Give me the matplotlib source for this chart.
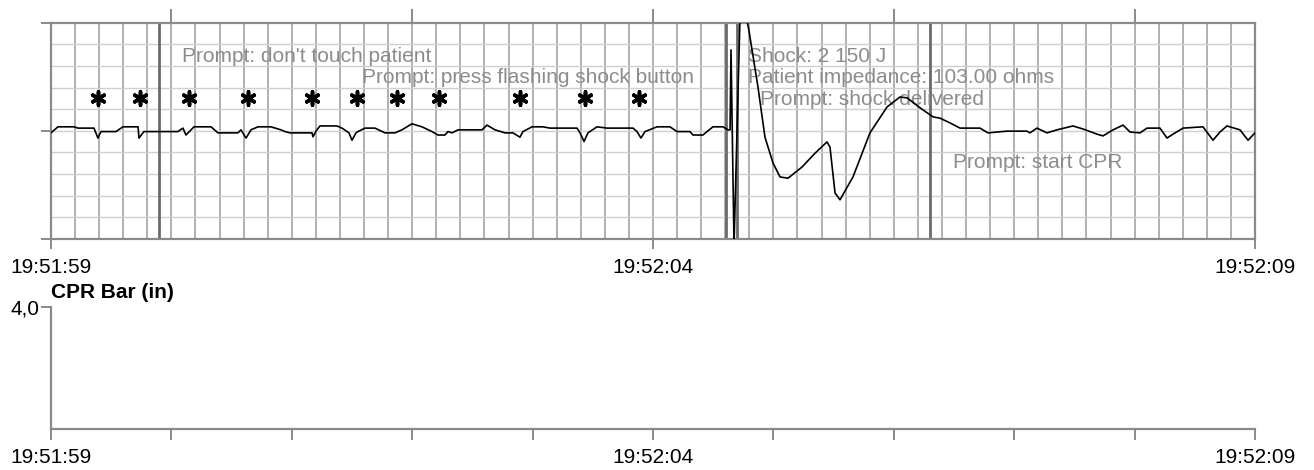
import numpy as np
import matplotlib
matplotlib.use("Agg")
import matplotlib.pyplot as plt

plt.rcParams["font.family"] = ["Liberation Sans", "DejaVu Sans"]

# ECG trace: seconds after 19:51:59, amplitude
ecg_t = [0.000, 0.058, 0.191, 0.224, 0.357, 0.390, 0.415, 0.540, 0.598, 0.723,
         0.731, 0.772, 1.055, 1.096, 1.121, 1.188, 1.329, 1.387, 1.553, 1.578,
         1.620, 1.661, 1.719, 1.827, 1.910, 1.944, 1.985, 2.168, 2.176, 2.201,
         2.234, 2.375, 2.417, 2.475, 2.500, 2.533, 2.550, 2.608, 2.691, 2.774,
         2.857, 2.915, 2.998, 3.081, 3.164, 3.214, 3.272, 3.297, 3.331, 3.381,
         3.580, 3.621, 3.688, 3.771, 3.837, 3.895, 3.920, 3.995, 4.086, 4.144,
         4.369, 4.394, 4.427, 4.460, 4.535, 4.618, 4.834, 4.867, 4.900, 4.934,
         5.033, 5.141, 5.199, 5.307, 5.332, 5.415, 5.449, 5.498, 5.581, 5.623,
         5.640, 5.648, 5.673, 5.723, 5.770, 5.795, 5.872, 5.930, 5.997, 6.055,
         6.121, 6.238, 6.346, 6.445, 6.470, 6.512, 6.553, 6.661, 6.802, 6.944,
         7.051, 7.110, 7.218, 7.326, 7.384, 7.467, 7.550, 7.716, 7.782, 7.940,
         8.106, 8.131, 8.189, 8.272, 8.355, 8.488, 8.571, 8.688, 8.738, 8.821,
         8.904, 8.962, 9.045, 9.103, 9.211, 9.269, 9.319, 9.402, 9.568, 9.651,
         9.709, 9.767, 9.875, 9.942, 10.000]
ecg_v = [-0.05, 0.09, 0.09, 0.06, 0.06, -0.17, -0.02, -0.02, 0.09, 0.09,
         -0.17, -0.02, -0.02, 0.06, -0.10, 0.09, 0.09, -0.05, -0.05, 0.02,
         -0.17, 0.02, 0.09, 0.09, 0.02, -0.02, -0.05, -0.05, -0.14, -0.01,
         0.11, 0.11, 0.06, -0.05, -0.22, -0.05, -0.02, 0.06, 0.06, -0.05,
         -0.05, 0.02, 0.16, 0.09, -0.02, -0.10, -0.10, -0.02, -0.05, 0.02,
         0.02, 0.13, 0.02, -0.05, -0.05, -0.15, -0.02, 0.09, 0.09, 0.06,
         0.06, -0.05, -0.25, -0.05, 0.09, 0.06, 0.06, -0.02, -0.17, -0.02,
         0.09, 0.09, -0.02, -0.02, -0.10, -0.10, -0.02, 0.09, 0.09, 0.02,
         0.02, 1.87, -2.65, 2.68, 2.68, 2.35, 1.01, -0.15, -0.75, -1.07,
         -1.10, -0.84, -0.52, -0.26, -0.38, -1.44, -1.60, -1.07, -0.05, 0.55,
         0.78, 0.76, 0.53, 0.32, 0.29, 0.18, 0.06, 0.06, -0.05, -0.01,
         -0.01, -0.05, 0.06, -0.05, 0.02, 0.11, 0.04, -0.08, -0.12, 0.02,
         0.13, -0.03, -0.05, 0.06, 0.06, -0.17, -0.08, 0.06, 0.09, -0.22,
         -0.03, 0.11, 0.02, -0.22, -0.05]

# detected beats (asterisks)
beat_t = [0.390, 0.739, 1.146, 1.636, 2.168, 2.542, 2.874, 3.223, 3.895, 4.435, 4.884]
beat_v = [0.76] * len(beat_t)

# device events
event_t = [0.897, 5.606, 5.698, 7.301]
notes = ["Prompt: don't touch patient", "Prompt: press flashing shock button",
         "Shock: 2 150 J", "Patient impedance: 103.00 ohms",
         "Prompt: shock delivered", "Prompt: start CPR"]
note_t = [1.088, 2.583, 5.789, 5.789, 5.889, 7.490]
note_v = [1.59, 1.10, 1.59, 1.10, 0.59, -0.86]

time_ticks = [0, 5, 10]
time_labels = ["19:51:59", "19:52:04", "19:52:09"]

fig = plt.figure(figsize=(13.14, 4.70), dpi=100)
frame = "#8a8a8a"

# ---- ECG strip ----
ax = fig.add_axes([0.0388, 0.4921, 0.9163, 0.4596])
ax.set_xlim(0, 10)
ax.set_ylim(-2.5, 2.5)
for x in np.arange(0.2, 10, 0.2):
    ax.axvline(x, color="#9a9a9a", lw=1.1, zorder=1)
for y in np.arange(-2.0, 2.5, 0.5):
    ax.axhline(y, color="#cfcfcf", lw=1.0, zorder=1)
for x in event_t:
    ax.axvline(x, color="#6a6a6a", lw=2.0, zorder=2)

ax.plot(ecg_t, ecg_v, color="black", lw=1.2, zorder=4)
ax.scatter(beat_t, beat_v, marker=(6, 2, 0), s=90, color="black", linewidths=2.6, zorder=5)

for txt, x, y in zip(notes, note_t, note_v):
    ax.text(x, y, txt, fontsize=15, color="#8c8c8c", ha="left", va="baseline", zorder=3)

for s in ax.spines.values():
    s.set_color(frame)
    s.set_linewidth(1.6)
ax.set_xticks(time_ticks)
ax.set_xticklabels(time_labels)
ax.set_yticks([-2.5, 0, 2.5])
ax.set_yticklabels([])
ax.tick_params(axis="x", length=7, width=1.4, color=frame, labelsize=15, pad=7)
ax.tick_params(axis="y", length=7, width=1.4, color=frame)

top = ax.secondary_xaxis("top")
top.set_xticks([1, 3, 5, 7, 9])
top.set_xticklabels([])
top.tick_params(length=10, width=1.4, color=frame)
top.spines["top"].set_visible(False)

# ---- CPR bar strip ----
ax2 = fig.add_axes([0.0388, 0.0872, 0.9163, 0.2596])
ax2.set_xlim(0, 10)
ax2.set_ylim(0, 4)
ax2.spines["top"].set_visible(False)
ax2.spines["right"].set_visible(False)
for s in ("left", "bottom"):
    ax2.spines[s].set_color(frame)
    ax2.spines[s].set_linewidth(1.6)
ax2.set_xticks(range(11))
ax2.set_xticklabels([time_labels[time_ticks.index(i)] if i in time_ticks else "" for i in range(11)])
ax2.set_yticks([4])
ax2.set_yticklabels(["4,0"])
ax2.tick_params(axis="x", length=8, width=1.4, color=frame, labelsize=15, pad=6)
ax2.tick_params(axis="y", length=7, width=1.4, color=frame, labelsize=15, pad=1)
ax2.text(0.0, 1.04, "CPR Bar (in)", transform=ax2.transAxes, fontsize=15,
         fontweight="bold", ha="left", va="bottom")

fig.savefig("out.png", dpi=100)
